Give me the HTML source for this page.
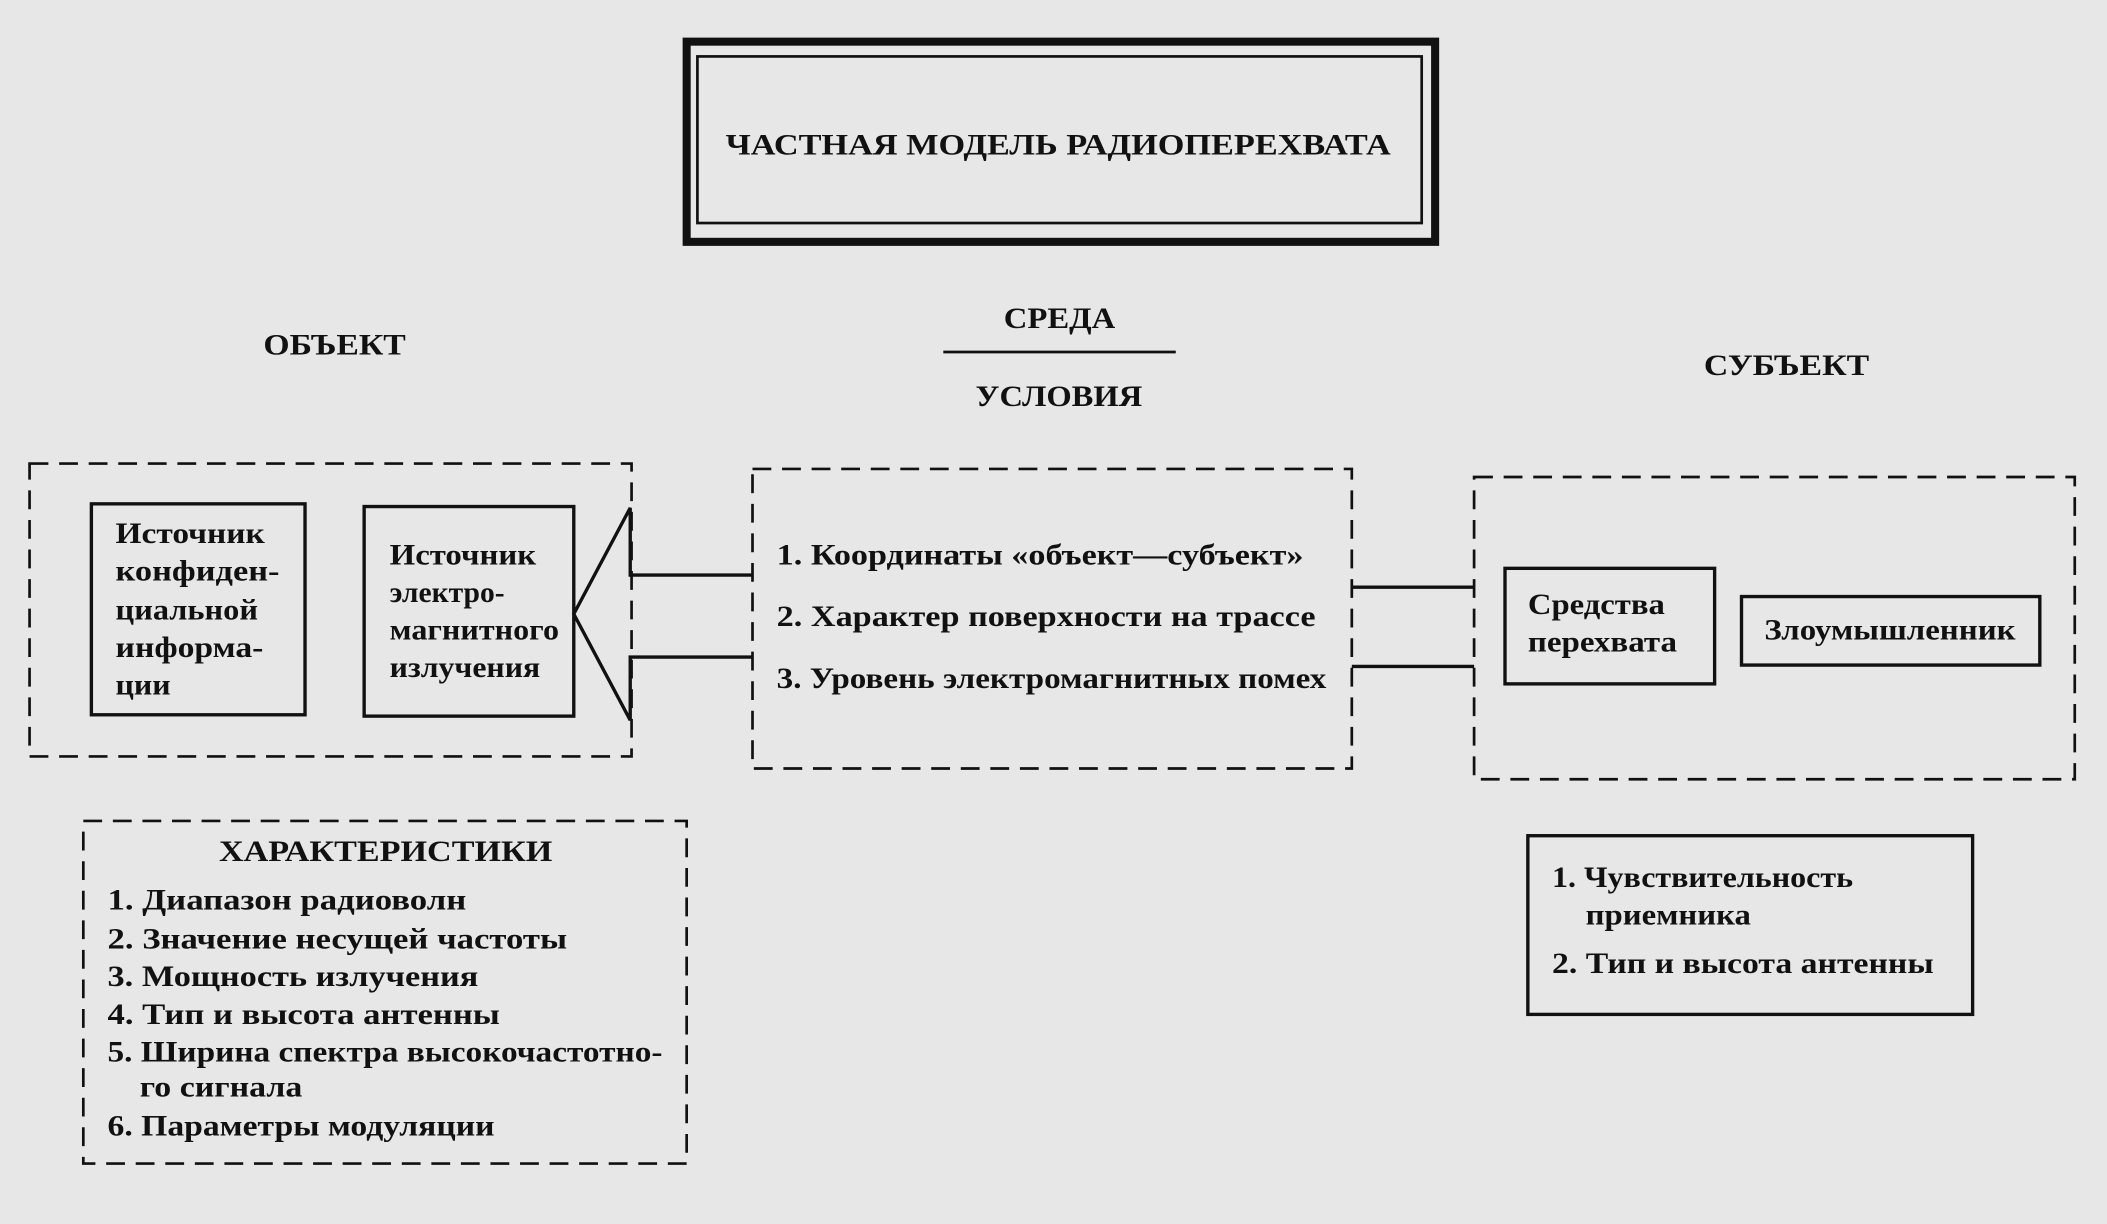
<!DOCTYPE html>
<html><head><meta charset="utf-8"><style>
html,body{margin:0;padding:0;background:#e7e7e7;}
svg{display:block;}
text{font-family:"Liberation Serif",serif;font-weight:bold;fill:#111;}
</style></head><body>
<svg width="2107" height="1224" viewBox="0 0 1568 911" preserveAspectRatio="none" xmlns="http://www.w3.org/2000/svg">
<rect x="0" y="0" width="1568" height="911" fill="#e7e7e7"/>
<g fill="none" stroke="#111">
<rect x="511" y="31" width="557" height="149" stroke-width="6"/>
<rect x="519" y="42" width="539" height="124" stroke-width="2"/>
<line x1="702" y1="262" x2="875" y2="262" stroke-width="2"/>
<g stroke-dasharray="14,8" stroke-width="2">
<rect x="22" y="345" width="448" height="218"/>
<rect x="560" y="349" width="446" height="223"/>
<rect x="1097" y="355" width="447" height="225"/>
<rect x="62" y="611" width="449" height="255"/>
</g>
<g stroke-width="2.5">
<rect x="68" y="375" width="159" height="157"/>
<rect x="271" y="377" width="156" height="156"/>
<rect x="1120" y="423" width="156" height="86"/>
<rect x="1296" y="444" width="222" height="51"/>
<rect x="1137" y="622" width="331" height="133"/>
<polyline points="560,428 469,428 469,378 427,457 469,536 469,489 560,489"/>
<line x1="1006" y1="437" x2="1097" y2="437"/>
<line x1="1006" y1="496" x2="1097" y2="496"/>
</g>
</g>
<g font-size="22">
<text x="540" y="115" textLength="495" lengthAdjust="spacingAndGlyphs">ЧАСТНАЯ МОДЕЛЬ РАДИОПЕРЕХВАТА</text>
<text x="196" y="264" textLength="106" lengthAdjust="spacingAndGlyphs">ОБЪЕКТ</text>
<text x="747" y="244" textLength="83" lengthAdjust="spacingAndGlyphs">СРЕДА</text>
<text x="726" y="302" textLength="124" lengthAdjust="spacingAndGlyphs">УСЛОВИЯ</text>
<text x="1268" y="279" textLength="123" lengthAdjust="spacingAndGlyphs">СУБЪЕКТ</text>
<text x="86" y="404" textLength="111" lengthAdjust="spacingAndGlyphs">Источник</text>
<text x="86" y="432" textLength="122" lengthAdjust="spacingAndGlyphs">конфиден-</text>
<text x="86" y="461" textLength="106" lengthAdjust="spacingAndGlyphs">циальной</text>
<text x="86" y="489" textLength="110" lengthAdjust="spacingAndGlyphs">информа-</text>
<text x="86" y="517" textLength="41" lengthAdjust="spacingAndGlyphs">ции</text>
<text x="290" y="420" textLength="109" lengthAdjust="spacingAndGlyphs">Источник</text>
<text x="290" y="448">электро-</text>
<text x="290" y="476" textLength="126" lengthAdjust="spacingAndGlyphs">магнитного</text>
<text x="290" y="504" textLength="112" lengthAdjust="spacingAndGlyphs">излучения</text>
<text x="578" y="420" textLength="392" lengthAdjust="spacingAndGlyphs">1. Координаты «объект—субъект»</text>
<text x="578" y="466" textLength="401" lengthAdjust="spacingAndGlyphs">2. Характер поверхности на трассе</text>
<text x="578" y="512" textLength="409" lengthAdjust="spacingAndGlyphs">3. Уровень электромагнитных помех</text>
<text x="1137" y="457" textLength="102" lengthAdjust="spacingAndGlyphs">Средства</text>
<text x="1137" y="485" textLength="111" lengthAdjust="spacingAndGlyphs">перехвата</text>
<text x="1313" y="476" textLength="187" lengthAdjust="spacingAndGlyphs">Злоумышленник</text>
<text x="163" y="641" textLength="248" lengthAdjust="spacingAndGlyphs">ХАРАКТЕРИСТИКИ</text>
<text x="80" y="677" textLength="267" lengthAdjust="spacingAndGlyphs">1. Диапазон радиоволн</text>
<text x="80" y="706" textLength="342" lengthAdjust="spacingAndGlyphs">2. Значение несущей частоты</text>
<text x="80" y="734" textLength="276" lengthAdjust="spacingAndGlyphs">3. Мощность излучения</text>
<text x="80" y="762" textLength="292" lengthAdjust="spacingAndGlyphs">4. Тип и высота антенны</text>
<text x="80" y="790" textLength="413" lengthAdjust="spacingAndGlyphs">5. Ширина спектра высокочастотно-</text>
<text x="104" y="816" textLength="121" lengthAdjust="spacingAndGlyphs">го сигнала</text>
<text x="80" y="845" textLength="288" lengthAdjust="spacingAndGlyphs">6. Параметры модуляции</text>
<text x="1155" y="660" textLength="224" lengthAdjust="spacingAndGlyphs">1. Чувствительность</text>
<text x="1180" y="688" textLength="123" lengthAdjust="spacingAndGlyphs">приемника</text>
<text x="1155" y="724" textLength="284" lengthAdjust="spacingAndGlyphs">2. Тип и высота антенны</text>
</g>
</svg>
</body></html>
